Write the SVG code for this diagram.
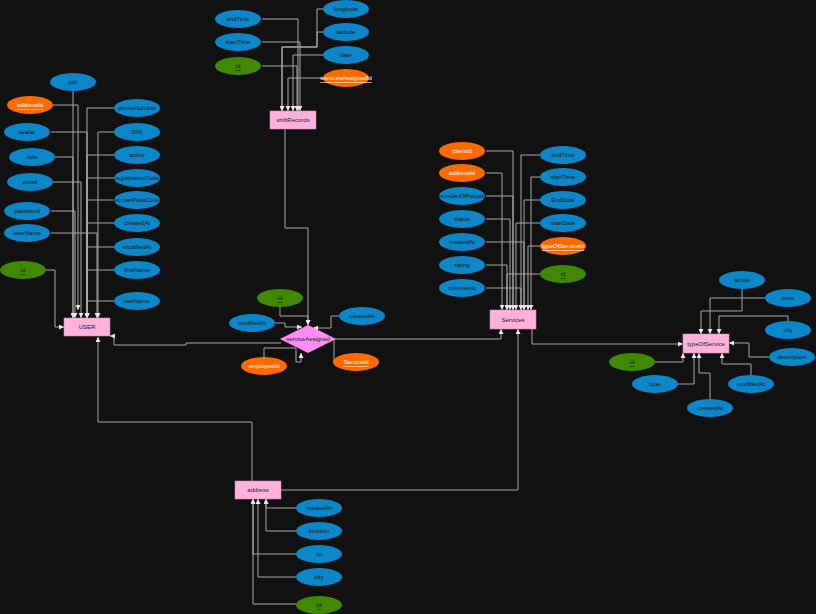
<svg xmlns="http://www.w3.org/2000/svg" width="816" height="614" viewBox="0 0 816 614">
<defs>
<marker id="arr" markerWidth="5" markerHeight="5" refX="5" refY="2.5" orient="auto" markerUnits="userSpaceOnUse">
<path d="M0,0 L5,2.5 L0,5 z" fill="#e8e8e8"/>
</marker>
<style>
.bg{fill:#111111}
.a{fill:#0c87c9}
.fk{fill:#ff6a00}
.pk{fill:#418a00}
.ent{fill:#ffb3da;stroke:#c98aa8;stroke-width:0.6}
.rel{fill:#ff8cf5}
text{font-family:"Liberation Sans",Arial,sans-serif;font-size:6px;text-anchor:middle;dominant-baseline:central;fill:#1a1a1a}
.wt{fill:#ffffff}
.u{text-decoration:underline}
#connectors path{fill:none;stroke:#a8a8a8;stroke-width:1;marker-end:url(#arr)}
#connectors path.n{marker-end:none}
</style>
</defs>
<rect class="bg" x="0" y="0" width="816" height="614"/>

<g id="connectors">
<!-- USER -->
<path d="M73,91 V318"/>
<path d="M53,105 H78 V310"/>
<path d="M51,132 H87 V318"/>
<path d="M55,157 H73 V318"/>
<path d="M53,182 H81 V318"/>
<path d="M51,211 H75 V318"/>
<path d="M51,233 H97 V318"/>
<path d="M46,270 H55 V327 H64"/>
<path d="M114,108 H87 V318"/>
<path d="M114,132 H98 V318"/>
<path d="M114,155 H87 V318"/>
<path d="M114,178 H87 V318"/>
<path d="M114,200 H87 V318"/>
<path d="M114,223 H87 V318"/>
<path d="M114,247 H87 V318"/>
<path d="M114,270 H87 V318"/>
<path d="M114,301 H87 V318"/>
<!-- shiftRecords -->
<path d="M262,19 H298 V111"/>
<path d="M262,42 H300 V111"/>
<path d="M262,66 H297 V111"/>
<path d="M323,9 H317 V47 H282 V111"/>
<path d="M323,32 H317 V47 H282 V111"/>
<path d="M323,55 H293 V111"/>
<path d="M323,78 H288 V111"/>
<!-- serviceAssigned -->
<path d="M285,129 V228 H308 V325"/>
<path d="M280,307 V316 H308 V325"/>
<path d="M275,323 H285 V327 H302"/>
<path d="M339,316 H331 V328 H313"/>
<path d="M264,357 V348 H296 V362 H301 V353"/>
<path class="n" d="M334,340 V362"/>
<path d="M335,339 H501 V329"/>
<path d="M281,343 H186 V345 H114 V336 H110"/>
<!-- address -->
<path d="M252,481 V422 H98 V337"/>
<path d="M281,490 H518 V329"/>
<path d="M296,508 H266 V499"/>
<path d="M296,531 H266 V499"/>
<path d="M296,554 H253 V499"/>
<path d="M296,577 H258 V499"/>
<path d="M296,604 H253 V499"/>
<!-- Services -->
<path d="M486,151 H513 V310"/>
<path d="M540,155 H521 V310"/>
<path d="M486,173 H502 V310"/>
<path d="M540,177 H531 V310"/>
<path d="M486,196 H513 V310"/>
<path d="M540,200 H524 V310"/>
<path d="M486,219 H510 V310"/>
<path d="M540,223 H516 V310"/>
<path d="M486,242 H524 V310"/>
<path d="M540,246 H528 V310"/>
<path d="M486,265 H507 V310"/>
<path d="M540,274 H507 V310"/>
<path d="M486,288 H521 V310"/>
<path d="M532,329 V344 H683"/>
<!-- typeOfService -->
<path d="M742,289 V311 H701 V334"/>
<path d="M765,298 H710 V334"/>
<path d="M788,321 V316 H719 V334"/>
<path d="M769,357 H749 V343 H729"/>
<path d="M751,375 V364 H722 V353"/>
<path d="M710,399 V373 H699 V353"/>
<path d="M678,384 H694 V353"/>
<path d="M655,362 H683 V353"/>
</g>

<!-- USER -->
<g id="USER"><rect class="ent" x="64" y="318" width="46" height="18"/><text x="87" y="327">USER</text></g>
<g id="user-job"><ellipse class="a" cx="73" cy="82" rx="23" ry="9"/><text x="73" y="82">job</text></g>
<g id="user-addressId"><ellipse class="fk" cx="30" cy="105" rx="23" ry="9"/><text class="wt u" x="30" y="105">addressId</text></g>
<g id="user-avatar"><ellipse class="a" cx="27" cy="132" rx="23" ry="9"/><text x="27" y="132">avatar</text></g>
<g id="user-role"><ellipse class="a" cx="32" cy="157" rx="23" ry="9"/><text x="32" y="157">role</text></g>
<g id="user-email"><ellipse class="a" cx="30" cy="182" rx="23" ry="9"/><text x="30" y="182">email</text></g>
<g id="user-password"><ellipse class="a" cx="27" cy="211" rx="23" ry="9"/><text x="27" y="211">password</text></g>
<g id="user-userName"><ellipse class="a" cx="27" cy="233" rx="23" ry="9"/><text x="27" y="233">userName</text></g>
<g id="user-id"><ellipse class="pk" cx="23" cy="270" rx="23" ry="9"/><text class="u" x="23" y="270">id</text></g>
<g id="user-phoneNumber"><ellipse class="a" cx="137" cy="108" rx="23" ry="9"/><text x="137" y="108">phoneNumber</text></g>
<g id="user-DNI"><ellipse class="a" cx="137" cy="132" rx="23" ry="9"/><text x="137" y="132">DNI</text></g>
<g id="user-active"><ellipse class="a" cx="137" cy="155" rx="23" ry="9"/><text x="137" y="155">active</text></g>
<g id="user-registrationCode"><ellipse class="a" cx="137" cy="178" rx="23" ry="9"/><text x="137" y="178">registrationCode</text></g>
<g id="user-recoverPassCover"><ellipse class="a" cx="137" cy="200" rx="23" ry="9"/><text x="137" y="200">recoverPassCover</text></g>
<g id="user-createdAt"><ellipse class="a" cx="137" cy="223" rx="23" ry="9"/><text x="137" y="223">createdAt</text></g>
<g id="user-modifiedAt"><ellipse class="a" cx="137" cy="247" rx="23" ry="9"/><text x="137" y="247">modifiedAt</text></g>
<g id="user-firstName"><ellipse class="a" cx="137" cy="270" rx="23" ry="9"/><text x="137" y="270">firstName</text></g>
<g id="user-lastName"><ellipse class="a" cx="137" cy="301" rx="23" ry="9"/><text x="137" y="301">lastName</text></g>

<!-- shiftRecords -->
<g id="shiftRecords"><rect class="ent" x="270" y="111" width="46" height="18"/><text x="293" y="120">shiftRecords</text></g>
<g id="sr-endTime"><ellipse class="a" cx="238" cy="19" rx="23" ry="9"/><text x="238" y="19">endTime</text></g>
<g id="sr-startTime"><ellipse class="a" cx="238" cy="42" rx="23" ry="9"/><text x="238" y="42">startTime</text></g>
<g id="sr-id"><ellipse class="pk" cx="238" cy="66" rx="23" ry="9"/><text class="u" x="238" y="66">id</text></g>
<g id="sr-longitude"><ellipse class="a" cx="346" cy="9" rx="23" ry="9"/><text x="346" y="9">longitude</text></g>
<g id="sr-latitude"><ellipse class="a" cx="346" cy="32" rx="23" ry="9"/><text x="346" y="32">latitude</text></g>
<g id="sr-date"><ellipse class="a" cx="346" cy="55" rx="23" ry="9"/><text x="346" y="55">date</text></g>
<g id="sr-servicesAssignedId"><ellipse class="fk" cx="346" cy="78" rx="23" ry="9"/><text class="wt u" x="346" y="78">servicesAssignedId</text></g>

<!-- serviceAssigned -->
<g id="serviceAssigned"><polygon class="rel" points="308,325 336,339 308,353 280,339"/><text x="308" y="339">serviceAssigned</text></g>
<g id="sa-id"><ellipse class="pk" cx="280" cy="298" rx="23" ry="9"/><text class="u" x="280" y="298">id</text></g>
<g id="sa-modifiedAt"><ellipse class="a" cx="252" cy="323" rx="23" ry="9"/><text x="252" y="323">modifiedAt</text></g>
<g id="sa-createdAt"><ellipse class="a" cx="362" cy="316" rx="23" ry="9"/><text x="362" y="316">createdAt</text></g>
<g id="sa-employeeId"><ellipse class="fk" cx="264" cy="366" rx="23" ry="9"/><text class="wt" x="264" y="366">employeeId</text></g>
<g id="sa-ServiceId"><ellipse class="fk" cx="356" cy="362" rx="23" ry="9"/><text class="wt u" x="356" y="362">ServiceId</text></g>

<!-- Services -->
<g id="Services"><rect class="ent" x="490" y="310" width="46" height="19"/><text x="513" y="319.5">Services</text></g>
<g id="s-clientId"><ellipse class="fk" cx="462" cy="151" rx="23" ry="9"/><text class="wt" x="462" y="151">clientId</text></g>
<g id="s-addressId"><ellipse class="fk" cx="462" cy="173" rx="23" ry="9"/><text class="wt" x="462" y="173">addressId</text></g>
<g id="s-numberOfPeople"><ellipse class="a" cx="462" cy="196" rx="23" ry="9"/><text x="462" y="196">numberOfPeople</text></g>
<g id="s-status"><ellipse class="a" cx="462" cy="219" rx="23" ry="9"/><text x="462" y="219">status</text></g>
<g id="s-createdAt"><ellipse class="a" cx="462" cy="242" rx="23" ry="9"/><text x="462" y="242">createdAt</text></g>
<g id="s-rating"><ellipse class="a" cx="462" cy="265" rx="23" ry="9"/><text x="462" y="265">rating</text></g>
<g id="s-comments"><ellipse class="a" cx="462" cy="288" rx="23" ry="9"/><text x="462" y="288">comments</text></g>
<g id="s-endTime"><ellipse class="a" cx="563" cy="155" rx="23" ry="9"/><text x="563" y="155">endTime</text></g>
<g id="s-startTime"><ellipse class="a" cx="563" cy="177" rx="23" ry="9"/><text x="563" y="177">startTime</text></g>
<g id="s-EndDate"><ellipse class="a" cx="563" cy="200" rx="23" ry="9"/><text x="563" y="200">EndDate</text></g>
<g id="s-startDate"><ellipse class="a" cx="563" cy="223" rx="23" ry="9"/><text x="563" y="223">startDate</text></g>
<g id="s-typeOfServiceId"><ellipse class="fk" cx="563" cy="246" rx="23" ry="9"/><text class="wt u" x="563" y="246">typeOfServiceId</text></g>
<g id="s-id"><ellipse class="pk" cx="563" cy="274" rx="23" ry="9"/><text class="u" x="563" y="274">id</text></g>

<!-- typeOfService -->
<g id="typeOfService"><rect class="ent" x="683" y="334" width="46" height="19"/><text x="706" y="343.5">typeOfService</text></g>
<g id="t-active"><ellipse class="a" cx="742" cy="280" rx="23" ry="9"/><text x="742" y="280">active</text></g>
<g id="t-price"><ellipse class="a" cx="788" cy="298" rx="23" ry="9"/><text x="788" y="298">price</text></g>
<g id="t-city"><ellipse class="a" cx="788" cy="330" rx="23" ry="9"/><text x="788" y="330">city</text></g>
<g id="t-description"><ellipse class="a" cx="792" cy="357" rx="23" ry="9"/><text x="792" y="357">description</text></g>
<g id="t-modifiedAt"><ellipse class="a" cx="751" cy="384" rx="23" ry="9"/><text x="751" y="384">modifiedAt</text></g>
<g id="t-createdAt"><ellipse class="a" cx="710" cy="408" rx="23" ry="9"/><text x="710" y="408">createdAt</text></g>
<g id="t-type"><ellipse class="a" cx="655" cy="384" rx="23" ry="9"/><text x="655" y="384">type</text></g>
<g id="t-id"><ellipse class="pk" cx="632" cy="362" rx="23" ry="9"/><text class="u" x="632" y="362">id</text></g>

<!-- address -->
<g id="address"><rect class="ent" x="235" y="481" width="46" height="18"/><text x="258" y="490">address</text></g>
<g id="a-createdAt"><ellipse class="a" cx="319" cy="508" rx="23" ry="9"/><text x="319" y="508">createdAt</text></g>
<g id="a-location"><ellipse class="a" cx="319" cy="531" rx="23" ry="9"/><text x="319" y="531">location</text></g>
<g id="a-cp"><ellipse class="a" cx="319" cy="554" rx="23" ry="9"/><text x="319" y="554">cp</text></g>
<g id="a-city"><ellipse class="a" cx="319" cy="577" rx="23" ry="9"/><text x="319" y="577">city</text></g>
<g id="a-id"><ellipse class="pk" cx="319" cy="605" rx="23" ry="9"/><text class="u" x="319" y="605">id</text></g>
</svg>
